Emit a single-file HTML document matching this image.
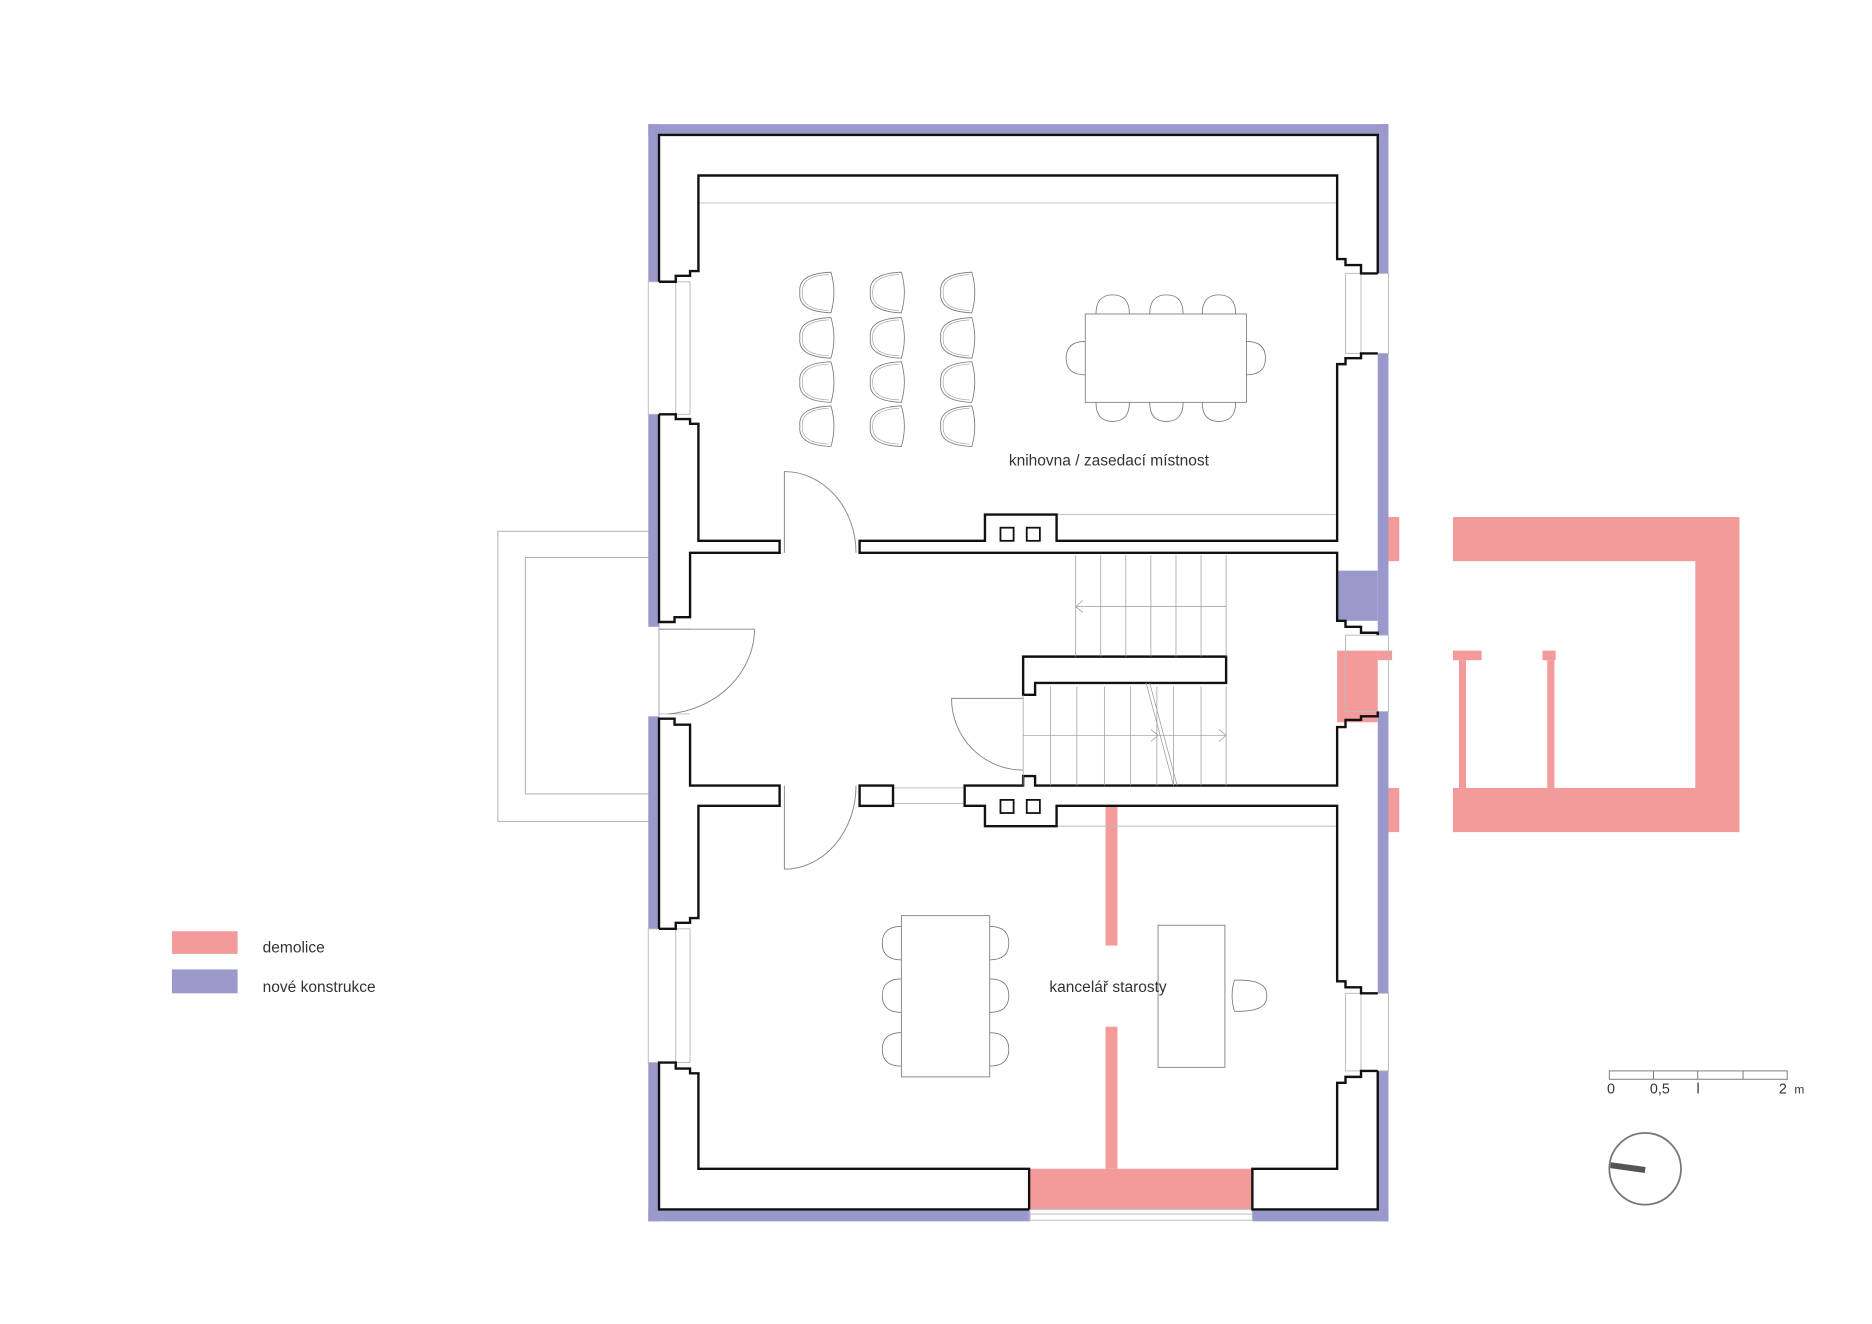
<!DOCTYPE html>
<html><head><meta charset="utf-8"><style>
html,body{margin:0;padding:0;background:#fff;}
svg{display:block}
text{font-family:"Liberation Sans",sans-serif;fill:#333;}
</style></head><body>
<svg width="1872" height="1324" viewBox="0 0 1568 1109" xmlns="http://www.w3.org/2000/svg">
<defs>
<g id="ch"><path d="M12,-17 Q-16,-16 -14,0 Q-16,16 12,17 Q17,0 12,-17 Z" fill="none" stroke="#777" stroke-width="0.7"/><path d="M10,-15 Q-13,-14 -12,0 Q-13,14 10,15" fill="none" stroke="#999" stroke-width="0.5"/></g>
<path id="tc" d="M-14,0 Q-14,-16 0,-16 Q14,-16 14,0" fill="none" stroke="#777" stroke-width="0.7"/>
</defs>
<rect x="417" y="445" width="135" height="243" fill="none" stroke="#aaa" stroke-width="0.8"/>
<rect x="440" y="467" width="112" height="198" fill="none" stroke="#aaa" stroke-width="0.8"/>
<g fill="#9b98cb">
<rect x="543" y="104" width="620" height="9"/>
<rect x="543" y="104" width="9" height="132"/>
<rect x="543" y="347" width="9" height="178"/>
<rect x="543" y="600" width="9" height="178"/>
<rect x="543" y="890" width="9" height="133"/>
<rect x="543" y="1013" width="320" height="10"/>
<rect x="1049" y="1013" width="114" height="10"/>
<rect x="1154" y="104" width="9" height="125"/>
<rect x="1154" y="296" width="9" height="236"/>
<rect x="1154" y="596" width="9" height="236"/>
<rect x="1154" y="897" width="9" height="126"/>
<rect x="1120" y="478" width="34" height="42"/>
</g>
<g fill="#f39a9a">
<rect x="862" y="979" width="187" height="34"/>
<rect x="926" y="675" width="10" height="117"/>
<rect x="926" y="860" width="10" height="119"/>
<rect x="1120" y="545" width="34" height="60"/>
<rect x="1154" y="545" width="12" height="8"/>
<rect x="1163" y="433" width="9" height="37"/>
<rect x="1163" y="660" width="9" height="37"/>
<path d="M1217,433 H1457 V697 H1217 V660 H1420 V470 H1217 Z"/>
<rect x="1217" y="545" width="24" height="8"/>
<rect x="1222" y="553" width="6" height="107"/>
<rect x="1292" y="545" width="11" height="8"/>
<rect x="1296" y="553" width="6" height="107"/>
</g>
<g fill="none" stroke="#bbb" stroke-width="0.8">
<rect x="543" y="236" width="35" height="111"/><line x1="566" y1="231" x2="566" y2="350"/>
<rect x="543" y="778" width="35" height="112"/><line x1="566" y1="773" x2="566" y2="895"/>
<rect x="1127" y="229" width="36" height="67"/><line x1="1140" y1="224" x2="1140" y2="301"/>
<rect x="1127" y="832" width="36" height="65"/><line x1="1140" y1="827" x2="1140" y2="902"/>
<rect x="1127" y="532" width="36" height="64"/>
<rect x="862" y="1013" width="187" height="9"/><line x1="862" y1="1017" x2="1049" y2="1017"/>
<line x1="585" y1="170" x2="1120" y2="170"/>
<line x1="885" y1="431" x2="1120" y2="431"/>
<line x1="885" y1="692" x2="1120" y2="692"/>
<line x1="748" y1="660" x2="808" y2="660"/><line x1="748" y1="673" x2="808" y2="673"/>
<line x1="552" y1="527" x2="578" y2="527"/><line x1="552" y1="598" x2="578" y2="598"/>
</g>
<g fill="none" stroke="#111" stroke-width="2" stroke-linejoin="miter">
<path d="M552,236 V113 H1154 V229"/>
<path d="M552,347 V521 H565 V517 H578 V463 H653 V453 H585 V355 H578 V351 H566 V347 H552"/>
<path d="M552,236 H566 V231 H578 V227 H585 V147 H1120 V217 H1127 V222 H1140 V229 H1154"/>
<path d="M1154,296 H1140 V300 H1127 V305 H1120 V453 H885 V431 H825 V453 H720 V463 H1120 V520 H1127 V525 H1140 V530 H1154 V532"/>
<path d="M1154,596 V600 H1140 V603 H1127 V609 H1120 V658 H867 V650 H857 V658 H808 V675 H825 V692 H885 V675 H1120 V822 H1127 V827 H1140 V832 H1154"/>
<path d="M1154,897 H1140 V902 H1127 V907 H1120 V979 H1049 V1013 H1154 V897"/>
<path d="M862,1013 H552 V890 H566 V895 H578 V899 H585 V979 H862 V1013"/>
<path d="M552,778 H566 V773 H578 V769 H585 V675 H653 V658 H578 V607 H565 V602 H552 V778"/>
<rect x="720" y="658" width="28" height="17"/>
<path d="M857,582 V550 H1027 V572 H867 V582 Z"/>
</g>
<g fill="none" stroke="#111" stroke-width="1.5">
<rect x="838" y="442" width="11" height="11"/><rect x="860" y="442" width="11" height="11"/>
<rect x="838" y="670" width="11" height="11"/><rect x="860" y="670" width="11" height="11"/>
</g>
<g fill="none" stroke="#888" stroke-width="0.8">
<path d="M657,463 V395 A60,68 0 0 1 717,463"/>
<path d="M657,658 V728 A60,70 0 0 0 717,658"/>
<path d="M552,527 H632 A80,72 0 0 1 560,598"/>
<path d="M857,585 H797 A60,60 0 0 0 857,645"/>
</g>
<g stroke="#999" stroke-width="0.6" fill="none">
<line x1="901" y1="465" x2="901" y2="550"/><line x1="922" y1="465" x2="922" y2="550"/><line x1="943" y1="465" x2="943" y2="550"/><line x1="964" y1="465" x2="964" y2="550"/><line x1="985" y1="465" x2="985" y2="550"/><line x1="1006" y1="465" x2="1006" y2="550"/><line x1="1027" y1="465" x2="1027" y2="550"/>
<line x1="901" y1="508" x2="1027" y2="508"/><path d="M907,503 L901,508 L907,513"/>
<line x1="857" y1="582" x2="857" y2="658"/><line x1="880" y1="575" x2="880" y2="658"/><line x1="902" y1="575" x2="902" y2="658"/><line x1="925" y1="575" x2="925" y2="658"/><line x1="947" y1="575" x2="947" y2="658"/><line x1="969" y1="575" x2="969" y2="658"/><line x1="983" y1="575" x2="983" y2="658"/><line x1="1006" y1="575" x2="1006" y2="658"/><line x1="1027" y1="575" x2="1027" y2="658"/>
<line x1="857" y1="616" x2="1027" y2="616"/><path d="M1021,611 L1027,616 L1021,621"/><path d="M964,611 L970,616 L964,621"/>
<line x1="960" y1="572" x2="983" y2="658"/><line x1="963" y1="572" x2="986" y2="658"/>
</g>
<g>
<use href="#ch" x="684" y="245"/><use href="#ch" x="743" y="245"/><use href="#ch" x="802" y="245"/>
<use href="#ch" x="684" y="283"/><use href="#ch" x="743" y="283"/><use href="#ch" x="802" y="283"/>
<use href="#ch" x="684" y="320"/><use href="#ch" x="743" y="320"/><use href="#ch" x="802" y="320"/>
<use href="#ch" x="684" y="357"/><use href="#ch" x="743" y="357"/><use href="#ch" x="802" y="357"/>
</g>
<g fill="none" stroke="#777" stroke-width="0.7">
<rect x="909" y="263" width="135" height="74"/>
<use href="#tc" x="932" y="263"/><use href="#tc" x="977" y="263"/><use href="#tc" x="1021" y="263"/>
<use href="#tc" transform="translate(932,337) scale(1,-1)"/><use href="#tc" transform="translate(977,337) scale(1,-1)"/><use href="#tc" transform="translate(1021,337) scale(1,-1)"/>
<use href="#tc" transform="translate(909,300) rotate(-90)"/><use href="#tc" transform="translate(1044,300) rotate(90)"/>
<rect x="755" y="767" width="74" height="135"/>
<use href="#tc" transform="translate(755,790) rotate(-90)"/><use href="#tc" transform="translate(755,834) rotate(-90)"/><use href="#tc" transform="translate(755,879) rotate(-90)"/>
<use href="#tc" transform="translate(829,790) rotate(90)"/><use href="#tc" transform="translate(829,834) rotate(90)"/><use href="#tc" transform="translate(829,879) rotate(90)"/>
<rect x="970" y="775" width="56" height="119"/>
<path d="M1034,821 Q1062,820 1061,834 Q1062,848 1034,847 Q1030,834 1034,821 Z"/>
</g>
<text x="845" y="390" font-size="13">knihovna / zasedací místnost</text>
<text x="879" y="831" font-size="13">kancelář starosty</text>
<rect x="144" y="780" width="55" height="19" fill="#f39a9a"/>
<rect x="144" y="812" width="55" height="20" fill="#9b98cb"/>
<text x="220" y="798" font-size="13">demolice</text>
<text x="220" y="831" font-size="13">nové konstrukce</text>
<g stroke="#777" stroke-width="0.8" fill="none">
<rect x="1348" y="897" width="149" height="7"/>
<line x1="1385" y1="897" x2="1385" y2="904"/><line x1="1422" y1="897" x2="1422" y2="904"/><line x1="1460" y1="897" x2="1460" y2="904"/>
<circle cx="1378" cy="979" r="30" stroke-width="1.5"/>
</g>
<line x1="1349" y1="976" x2="1378" y2="980" stroke="#555" stroke-width="5"/>
<g font-size="12" fill="#555"><text x="1346" y="916">0</text><text x="1382" y="916">0,5</text><text x="1421" y="916">l</text><text x="1490" y="916">2</text><text x="1503" y="916" font-size="10">m</text></g>
</svg>
</body></html>
